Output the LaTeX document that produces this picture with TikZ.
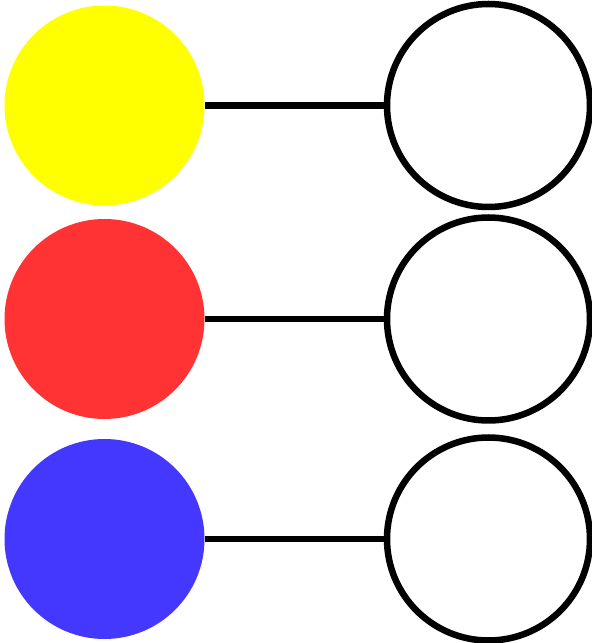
\documentclass[tikz,border=0pt]{standalone}
\usepackage{xcolor}
\definecolor{dotyellow}{HTML}{FFFF00}
\definecolor{dotred}{HTML}{FF3333}
\definecolor{dotblue}{HTML}{4438FF}
\usepackage{tikz}

\tikzset{
  filleddot/.style={circle, inner sep=0pt, minimum size=200pt},
  emptydot/.style={circle, draw=black, line width=6.5pt, inner sep=0pt, minimum size=203pt},
  link/.style={line width=6.5pt, color=black}
}

\begin{document}
\begin{tikzpicture}[x=1pt, y=1pt]
  % Canvas
  \useasboundingbox (0,0) rectangle (592,643);
  % Coloured dots on the left, empty rings on the right
  \foreach \n/\c/\y in {1/dotyellow/537.5, 2/dotred/324, 3/dotblue/104} {
    \node[filleddot, fill=\c] (dot\n) at (104.5,\y) {};
    \node[emptydot] (ring\n) at (488.5,\y) {};
  }
  % Links between each pair
  \foreach \n in {1,2,3} {
    \draw[link] (dot\n) -- (ring\n);
  }
\end{tikzpicture}
\end{document}
